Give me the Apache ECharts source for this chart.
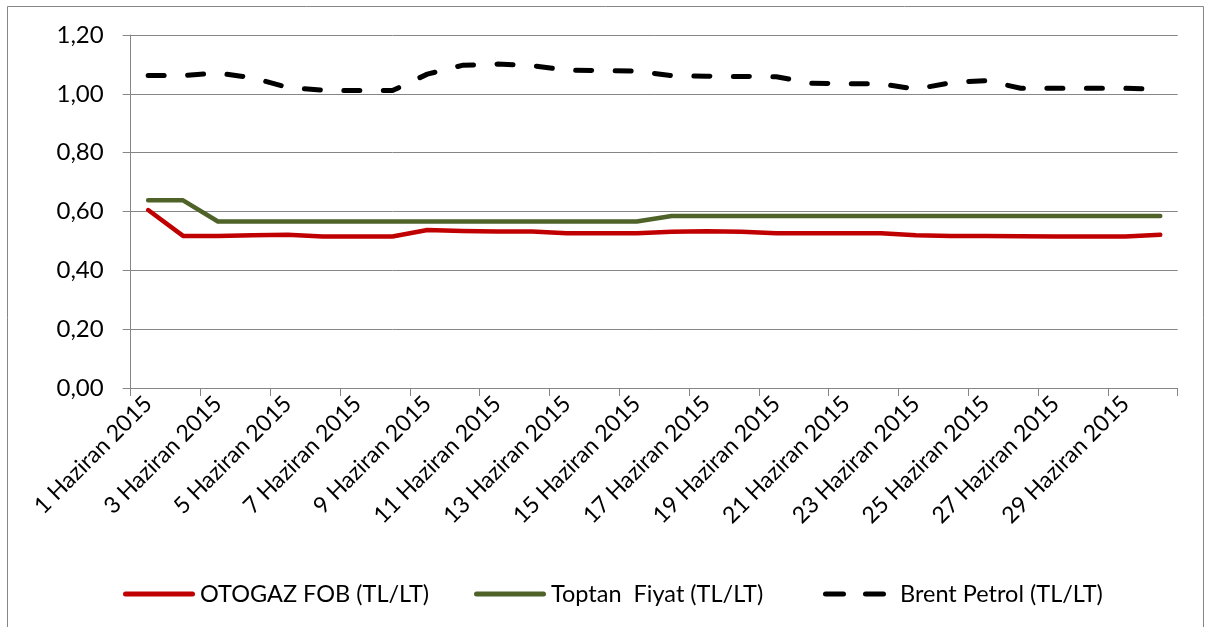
<!DOCTYPE html>
<html>
<head>
<meta charset="utf-8">
<script src="https://cdn.jsdelivr.net/npm/echarts@6/dist/echarts.min.js"></script>
<style>
  html, body { margin: 0; padding: 0; background: #fff; }
  #chart { width: 1208px; height: 627px; }
</style>
</head>
<body>
<div id="chart"></div>
<script>
// gün etiketleri (1-30 Haziran 2015)
const days = [];
for (let d = 1; d <= 30; d++) days.push(d + " Haziran 2015");

const seriesNames = ["OTOGAZ FOB (TL/LT)", "Toptan  Fiyat (TL/LT)", "Brent Petrol (TL/LT)"];

const otogazFob = [0.605, 0.517, 0.517, 0.519, 0.521, 0.515, 0.515, 0.515, 0.537, 0.534,
  0.532, 0.532, 0.526, 0.526, 0.526, 0.531, 0.533, 0.531, 0.526, 0.526,
  0.526, 0.526, 0.519, 0.517, 0.517, 0.516, 0.515, 0.515, 0.515, 0.521];

const toptanFiyat = [0.638, 0.638, 0.566, 0.566, 0.566, 0.566, 0.566, 0.566, 0.566, 0.566,
  0.566, 0.566, 0.566, 0.566, 0.566, 0.585, 0.585, 0.585, 0.585, 0.585,
  0.585, 0.585, 0.585, 0.585, 0.585, 0.585, 0.585, 0.585, 0.585, 0.585];

const brentPetrol = [1.062, 1.062, 1.071, 1.054, 1.022, 1.012, 1.011, 1.011, 1.067, 1.097,
  1.101, 1.096, 1.080, 1.079, 1.077, 1.062, 1.060, 1.059, 1.058, 1.036,
  1.034, 1.034, 1.016, 1.038, 1.045, 1.019, 1.019, 1.019, 1.019, 1.015];

const yTicks = [0, 0.2, 0.4, 0.6, 0.8, 1.0, 1.2];

const chart = echarts.init(document.getElementById("chart"));
const font = "Lato, 'Liberation Sans', sans-serif";
const gray = "#868686";

// lejant simgeleri: düz çizgi ve iki kesik çizgi (yuvarlak uçlu)
const solidIcon = "path://M2.5,0h67a2.5,2.5 0 0 1 0,5h-67a2.5,2.5 0 0 1 0,-5z";
const dashIcon = "path://M2.5,0h18a2.5,2.5 0 0 1 0,5h-18a2.5,2.5 0 0 1 0,-5z" +
  "M42.5,0h18a2.5,2.5 0 0 1 0,5h-18a2.5,2.5 0 0 1 0,-5z" +
  "M71.9,2.4h0.1v0.1h-0.1z";
const legendIcons = [solidIcon, solidIcon, dashIcon];
const legendLefts = [118, 469, 818];

const legends = seriesNames.map((name, i) => ({
  data: [{ name: name, icon: legendIcons[i] }],
  top: 577,
  left: legendLefts[i],
  itemWidth: 72,
  itemHeight: 5,
  textStyle: { fontFamily: font, fontSize: 23.5, color: "#000" }
}));

const option = {
  backgroundColor: "#fff",
  animation: false,
  textStyle: { fontFamily: font },
  graphic: [
    {
      type: "rect",
      shape: { x: 7.5, y: 6.5, width: 1196, height: 640 },
      style: { fill: "none", stroke: gray, lineWidth: 1 },
      silent: true
    }
  ],
  grid: { left: 130.7, right: 30.3, top: 35, bottom: 239 },
  legend: legends,
  xAxis: {
    type: "category",
    data: days,
    boundaryGap: true,
    axisLine: { lineStyle: { color: gray, width: 1 } },
    axisTick: { show: true, length: 8, interval: 1, lineStyle: { color: gray } },
    axisLabel: {
      interval: 1,
      rotate: 45,
      margin: 12,
      fontSize: 23,
      color: "#000",
      fontFamily: font
    },
    splitLine: { show: false }
  },
  yAxis: {
    type: "value",
    min: yTicks[0],
    max: yTicks[yTicks.length - 1],
    interval: 0.2,
    axisLine: { show: true, lineStyle: { color: gray, width: 1 } },
    axisTick: { show: true, length: 8, lineStyle: { color: gray } },
    axisLabel: {
      margin: 27,
      fontSize: 24,
      color: "#000",
      fontFamily: font,
      formatter: v => v.toFixed(2).replace(".", ",")
    },
    splitLine: { show: true, lineStyle: { color: gray, width: 1 } }
  },
  series: [
    {
      name: seriesNames[0],
      type: "line",
      data: otogazFob,
      symbol: "none",
      color: "#C00000",
      lineStyle: { color: "#C00000", width: 4.5, cap: "round", join: "round" }
    },
    {
      name: seriesNames[1],
      type: "line",
      data: toptanFiyat,
      symbol: "none",
      color: "#4F6228",
      lineStyle: { color: "#4F6228", width: 4.5, cap: "round", join: "round" }
    },
    {
      name: seriesNames[2],
      type: "line",
      data: brentPetrol,
      symbol: "none",
      color: "#000",
      lineStyle: { color: "#000", width: 5, type: [16, 23.5], cap: "round", join: "round" }
    }
  ]
};

chart.setOption(option);
</script>
</body>
</html>
